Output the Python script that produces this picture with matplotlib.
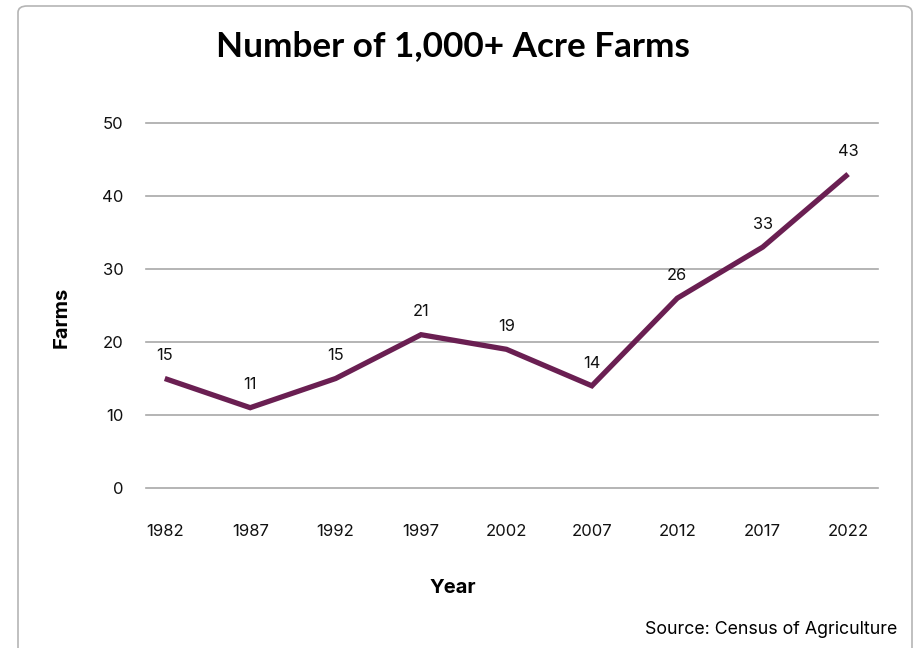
import matplotlib

matplotlib.use("Agg")
import matplotlib.pyplot as plt
from matplotlib.patches import FancyBboxPatch

# Census of Agriculture: farms of 1,000+ acres by census year
years = ["1982", "1987", "1992", "1997", "2002", "2007", "2012", "2017", "2022"]
farms = [15, 11, 15, 21, 19, 14, 26, 33, 43]
y_ticks = [0, 10, 20, 30, 40, 50]

LINE = "#6a1f52"
GRID = "#a8a8a8"

plt.rcParams.update({
    "font.family": ["Inter", "DejaVu Sans"],
    "font.size": 12,
})

fig = plt.figure(figsize=(9.17, 6.48), dpi=100)
fig.patch.set_facecolor("white")

# rounded panel frame running off the bottom edge
frame = FancyBboxPatch((18 / 917, -0.05), (912 - 18) / 917, (648 - 6) / 648 + 0.05,
                       boxstyle="round,pad=0,rounding_size=0.01",
                       transform=fig.transFigure, fill=False,
                       edgecolor="#b5b5b5", linewidth=1.2)
fig.add_artist(frame)

ax = fig.add_axes([146 / 917, 160 / 648, 732 / 917, 365 / 648])
x = list(range(len(years)))
ax.plot(x, farms, color=LINE, lw=3.8, solid_capstyle="butt",
        solid_joinstyle="miter", zorder=3)
for xi, yi in zip(x, farms):
    ax.annotate(f"{yi}", (xi, yi), textcoords="offset points", xytext=(0, 11),
                ha="center", va="bottom", fontsize=11.8, color="#111111")

ax.set_xlim(-0.22, 8.35)
ax.set_ylim(0, 50)
ax.set_yticks(y_ticks)
ax.set_xticks(x)
ax.set_xticklabels(years)
for s in ax.spines.values():
    s.set_visible(False)
ax.yaxis.grid(True, color=GRID, lw=1.2)
for gl in ax.yaxis.get_gridlines():
    gl.set_clip_on(False)
ax.set_axisbelow(True)
ax.tick_params(axis="both", length=0, labelsize=12, colors="#111111")
ax.tick_params(axis="x", pad=26)
ax.tick_params(axis="y", pad=16)

fig.text(62 / 917, 1 - 317 / 648, "Farms", ha="center", va="center",
         rotation=90, fontsize=14.5, fontweight="bold")
fig.text(453 / 917, 1 - 588 / 648, "Year", ha="center", va="center",
         fontsize=14.5, fontweight="bold")
fig.text(453 / 917, 1 - 46 / 648, "Number of 1,000+ Acre Farms", ha="center",
         va="center", fontsize=25.3, fontweight="bold", family=["Lato", "DejaVu Sans"])
fig.text(897 / 917, 1 - 629 / 648, "Source: Census of Agriculture", ha="right",
         va="center", fontsize=12.8)

fig.savefig("out.png", dpi=100)
